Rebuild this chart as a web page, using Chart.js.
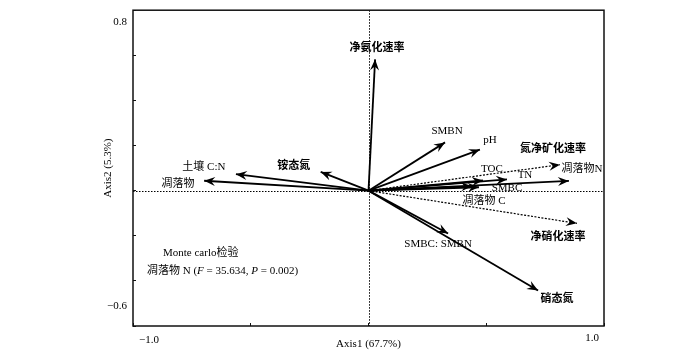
<!DOCTYPE html>
<html>
<head>
<meta charset="utf-8">
<script src="https://cdn.jsdelivr.net/npm/chart.js@4.4.0/dist/chart.umd.min.js"></script>
<style>
	html, body { margin: 0; padding: 0; background: #fff; }
</style>
</head>
<body>
<canvas id="rda-chart" width="700" height="354"></canvas>
<script>
// RDA biplot scores
const variables = ['净氨化速率', '铵态氮', '土壤 C:N', '凋落物', 'SMBN', 'pH', '氮净矿化速率', '凋落物N', 'TOC', 'TN', 'SMBC', '凋落物 C', '净硝化速率', 'SMBC: SMBN', '硝态氮'];
const axis1Scores = [0.028, -0.203, -0.563, -0.698, 0.325, 0.473, 0.813, 0.851, 0.486, 0.588, 0.469, 0.44, 0.885, 0.338, 0.72];
const axis2Scores = [0.582, 0.083, 0.073, 0.044, 0.214, 0.182, 0.115, 0.043, 0.045, 0.05, 0.015, 0.019, -0.145, -0.19, -0.443];
const xEndTicks = [-1.0, 1.0];
const yEndTicks = [-0.6, 0.8];
const axisTitles = ['Axis1 (67.7%)', 'Axis2 (5.3%)'];

// label placement / style, per variable (px offsets from arrow tip)
const labelOffsets = [[2, -11], [-27, -6], [-32, -7], [-26, 3], [2, -11], [10, -9], [-7, -16], [13, -12], [9, -11], [18, -4], [28, 1], [12, 15], [-19, 14], [-10, 11], [19, 9]];
const boldLabel = [1, 1, 0, 0, 0, 0, 1, 0, 0, 0, 0, 0, 1, 0, 1];
const dottedLine = [0, 0, 0, 0, 0, 0, 1, 0, 0, 0, 0, 0, 1, 0, 0];

const FONT = '"Liberation Serif", "Times New Roman", "Noto Sans CJK SC", serif';
const minus = (v) => v.toFixed(1).replace('-', '\u2212');

const biplotPlugin = {
	id: 'biplot',
	beforeDatasetsDraw(chart) {
		const { ctx, chartArea: a, scales: { x, y } } = chart;
		const x0 = Math.round(x.getPixelForValue(0)) + 0.5;
		const y0 = Math.round(y.getPixelForValue(0)) + 0.5;
		ctx.save();
		ctx.strokeStyle = '#000';
		ctx.lineWidth = 1;
		ctx.setLineDash([1.5, 1.5]);
		ctx.beginPath();
		ctx.moveTo(x0, a.top);
		ctx.lineTo(x0, a.bottom);
		ctx.moveTo(a.left, y0);
		ctx.lineTo(a.right, y0);
		ctx.stroke();
		ctx.restore();
	},
	afterDatasetsDraw(chart) {
		const { ctx, chartArea: a, scales: { x, y } } = chart;
		ctx.save();

		// arrow heads + variable names
		chart.data.datasets.forEach((ds, i) => {
			const pts = chart.getDatasetMeta(i).data;
			const p0 = pts[0], p1 = pts[1];
			const ang = Math.atan2(p1.y - p0.y, p1.x - p0.x);
			const L = 11, W = 4.5;
			const cos = Math.cos(ang), sin = Math.sin(ang);
			ctx.fillStyle = '#000';
			ctx.beginPath();
			ctx.moveTo(p1.x, p1.y);
			ctx.lineTo(p1.x - L * cos - W * sin, p1.y - L * sin + W * cos);
			ctx.lineTo(p1.x - 0.65 * L * cos, p1.y - 0.65 * L * sin);
			ctx.lineTo(p1.x - L * cos + W * sin, p1.y - L * sin - W * cos);
			ctx.closePath();
			ctx.fill();

			ctx.font = (boldLabel[i] ? 'bold ' : '') + '11px ' + FONT;
			ctx.textAlign = 'center';
			ctx.textBaseline = 'middle';
			ctx.fillText(ds.label, p1.x + labelOffsets[i][0], p1.y + labelOffsets[i][1]);
		});

		// frame
		ctx.strokeStyle = '#111';
		ctx.lineWidth = 1.5;
		ctx.strokeRect(a.left, a.top, a.width, a.height);

		// end tick labels
		ctx.fillStyle = '#000';
		ctx.font = '11px ' + FONT;
		ctx.textBaseline = 'middle';
		ctx.textAlign = 'center';
		ctx.fillText(minus(xEndTicks[0]), x.getPixelForValue(xEndTicks[0]) + 16, a.bottom + 14);
		ctx.fillText(minus(xEndTicks[1]), x.getPixelForValue(xEndTicks[1]) - 12, a.bottom + 12);
		ctx.textAlign = 'right';
		ctx.fillText(minus(yEndTicks[1]), a.left - 6, y.getPixelForValue(yEndTicks[1]) + 12);
		ctx.fillText(minus(yEndTicks[0]), a.left - 6, y.getPixelForValue(yEndTicks[0]) - 20);

		// Monte carlo test note
		ctx.textAlign = 'left';
		let tx = a.left + 30;
		ctx.fillText('Monte carlo检验', tx, 253);
		const parts = [
			['凋落物 N (', ''], ['F', 'italic '], [' = 35.634, ', ''], ['P', 'italic '], [' = 0.002)', ''],
		];
		tx = a.left + 14;
		parts.forEach(([t, style]) => {
			ctx.font = style + '11px ' + FONT;
			ctx.fillText(t, tx, 271);
			tx += ctx.measureText(t).width;
		});
		ctx.restore();
	},
};

const datasets = variables.map((name, i) => ({
	label: name,
	data: [{ x: 0, y: 0 }, { x: axis1Scores[i], y: axis2Scores[i] }],
	showLine: true,
	borderColor: '#000',
	borderWidth: dottedLine[i] ? 1.2 : 1.8,
	borderDash: dottedLine[i] ? [2, 1.5] : [],
	pointRadius: 0,
	pointHoverRadius: 0,
}));

const tickGrid = {
	display: true,
	drawOnChartArea: false,
	drawTicks: true,
	tickLength: -3,
	tickColor: '#111',
	tickWidth: 1,
};

new Chart(document.getElementById('rda-chart'), {
	type: 'scatter',
	data: { datasets },
	plugins: [biplotPlugin],
	options: {
		responsive: false,
		animation: false,
		layout: { padding: { left: 95, right: 96, top: 5, bottom: 0 } },
		plugins: {
			legend: { display: false },
			tooltip: { enabled: false },
		},
		scales: {
			x: {
				type: 'linear',
				min: -1,
				max: 1,
				ticks: { stepSize: 0.5, autoSkip: false, callback: () => '' },
				grid: tickGrid,
				border: { display: false },
				title: {
					display: true,
					text: axisTitles[0],
					color: '#000',
					font: { family: FONT, size: 11 },
					padding: { top: 0, bottom: 3 },
				},
				afterFit(scale) { scale.height = 28; },
			},
			y: {
				type: 'linear',
				min: -0.6,
				max: 0.8,
				ticks: { stepSize: 0.2, autoSkip: false, callback: () => '' },
				grid: tickGrid,
				border: { display: false },
				title: {
					display: true,
					text: axisTitles[1],
					color: '#000',
					font: { family: FONT, size: 11 },
					padding: { top: 7, bottom: 0 },
				},
				afterFit(scale) { scale.width = 38; },
			},
		},
	},
});
</script>
</body>
</html>
